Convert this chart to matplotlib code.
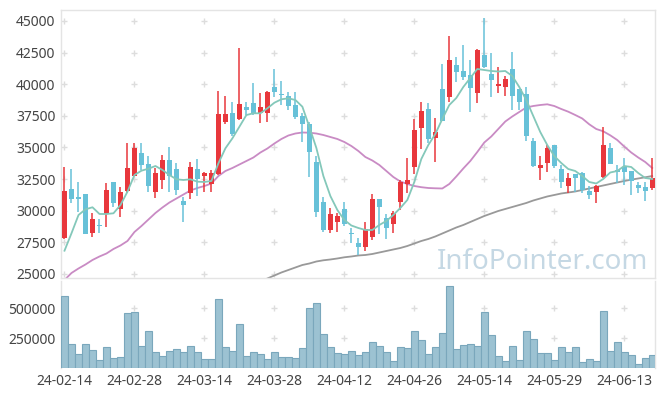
import numpy as np
import matplotlib
matplotlib.use("Agg")
import matplotlib.pyplot as plt

plt.rcParams['font.family'] = ['Noto Sans', 'DejaVu Sans']

# daily candles, 24-02-14 .. 24-06-19 (85 trading days)
opens = [27840, 31710, 31080, 31320, 28260, 28860, 29710, 32270, 30110, 31580,
         32760, 34540, 33690, 31500, 32420, 34000, 33290, 30790, 31420, 33290,
         32760, 32080, 32900, 37040, 37700, 37270, 38170, 38490, 37750, 37700,
         39800, 39200, 39070, 38360, 37490, 36850, 33850, 30660, 28470, 29130,
         30130, 28250, 27460, 27150, 27940, 30900, 29390, 28920, 30710, 32080,
         33430, 36510, 38040, 35720, 39620, 38970, 41520, 41050, 40730, 39330,
         42310, 40780, 39860, 39800, 41200, 39620, 39230, 35510, 33400, 33790,
         35190, 33290, 31970, 32870, 33000, 31580, 31500, 32680, 34980, 33210,
         33480, 33140, 32030, 31890, 31810]
highs = [33450, 33270, 32240, 31350, 29790, 29310, 32160, 32270, 31890, 35330,
         35330, 35330, 34350, 33350, 34400, 35060, 33740, 31100, 33820, 34060,
         33080, 33210, 39460, 39070, 38620, 42840, 38620, 40070, 39280, 39490,
         41180, 40280, 39410, 39360, 37700, 37040, 34350, 31100, 30190, 29790,
         30710, 28600, 27810, 29080, 31320, 30950, 29730, 29970, 32420, 34140,
         37220, 38570, 38490, 37300, 41600, 43810, 42180, 43100, 41920, 42790,
         45210, 42490, 41390, 40650, 42570, 39650, 39760, 35770, 34320, 35190,
         35190, 33610, 32950, 32870, 33050, 31950, 32030, 36640, 35330, 33610,
         34140, 33150, 32290, 32290, 34140]
lows = [27760, 30580, 29920, 28150, 27890, 28210, 28730, 30310, 29520, 31420,
        32700, 33210, 31450, 30980, 31690, 31500, 31240, 29130, 30900, 31160,
        31450, 31450, 32800, 36830, 35900, 37200, 37570, 37600, 36910, 37040,
        38970, 38360, 37960, 37250, 35450, 32680, 29520, 28330, 28210, 28330,
        28810, 27420, 26490, 26830, 27680, 28150, 27730, 28210, 30050, 31420,
        32900, 34850, 35330, 33870, 37050, 38590, 40200, 40330, 37830, 38490,
        41300, 38970, 39280, 39090, 37960, 37960, 35510, 33480, 32420, 33030,
        33350, 31770, 31370, 31500, 31370, 30900, 30630, 32560, 33650, 32160,
        32030, 31240, 31370, 30790, 31630]
closes = [31550, 30950, 30950, 28150, 29340, 28790, 31630, 30630, 31470, 33350,
          34930, 33630, 31970, 32950, 34000, 32760, 31630, 30450, 33480, 32500,
          32950, 32950, 37640, 37640, 36060, 38440, 37960, 37640, 38170, 39380,
          39410, 39150, 38300, 37430, 36850, 34660, 29920, 28470, 29730, 29600,
          28920, 28180, 27150, 28520, 30900, 30310, 28600, 29790, 32240, 32420,
          36380, 37880, 35640, 36240, 37110, 41920, 40990, 40590, 39720, 42710,
          41390, 40330, 40020, 40410, 39070, 38620, 35900, 33530, 33610, 34980,
          33530, 32290, 32560, 32560, 31630, 31240, 31950, 35190, 33690, 33030,
          33080, 32370, 31770, 31550, 32610]
volumes = [603000, 200000, 117000, 200000, 150000, 67000, 175000, 83000, 92000, 458000,
           467000, 183000, 308000, 133000, 100000, 142000, 158000, 133000, 183000, 133000,
           75000, 75000, 575000, 175000, 142000, 367000, 100000, 133000, 117000, 75000,
           133000, 92000, 92000, 83000, 167000, 500000, 542000, 283000, 175000, 125000,
           117000, 142000, 108000, 133000, 217000, 183000, 133000, 58000, 175000, 167000,
           308000, 233000, 117000, 175000, 292000, 683000, 158000, 192000, 200000, 183000,
           467000, 275000, 100000, 58000, 183000, 67000, 308000, 242000, 125000, 125000,
           67000, 175000, 133000, 175000, 50000, 75000, 58000, 475000, 142000, 217000,
           133000, 108000, 33000, 83000, 108000]

# moving averages as drawn (they include days before the window)
ma5 = [26830, 28210, 29650, 30105, 30264, 29734, 29734, 29789, 30445, 31498,
       32818, 33159, 33317, 33530, 33214, 32818, 32478, 32423, 32478, 32289,
       32265, 32344, 33744, 34930, 35721, 36639, 37564, 37699, 37699, 38094,
       38537, 38806, 38885, 38751, 38221, 36615, 34954, 32739, 31157, 30050,
       29259, 28824, 28626, 28468, 28468, 28863, 29180, 29654, 30208, 30841,
       32265, 34084, 35191, 36062, 37248, 38355, 38909, 39779, 40491, 41203,
       41124, 41045, 41005, 41045, 40649, 39779, 38751, 37485, 36220, 35191,
       34321, 33768, 33293, 33135, 32739, 32265, 32146, 32502, 33016, 33135,
       33530, 33451, 32977, 32581, 32502]
ma20 = [24513, 25067, 25423, 25739, 26095, 26372, 26609, 26965, 27242, 27598,
        28310, 28784, 29299, 29813, 30248, 30643, 30960, 31276, 31592, 31790,
        31948, 32146, 32739, 33135, 33372, 33649, 33926, 34203, 34598, 34915,
        35310, 35666, 35943, 36101, 36180, 36164, 36101, 35982, 35824, 35666,
        35429, 35112, 34717, 34242, 33965, 33609, 33135, 32660, 32304, 32107,
        31948, 31853, 31790, 31766, 31751, 32107, 32700, 33333, 33926, 34638,
        35389, 35864, 36457, 37050, 37446, 37802, 38158, 38276, 38355, 38411,
        38276, 38039, 37826, 37564, 37288, 36829, 36457, 36275, 35959, 35587,
        35073, 34598, 34203, 33847, 33372]
nan = float('nan')
ma60 = [nan] * 28 + [
        24394, 24632, 24869, 25106, 25304, 25502, 25699, 25818, 25976, 26071,
        26135, 26214, 26309, 26372, 26451, 26490, 26570, 26688, 26807, 26926,
        27044, 27202, 27400, 27598, 27756, 27954, 28191, 28428, 28666, 28863,
        29101, 29338, 29575, 29773, 29971, 30129, 30287, 30445, 30604, 30801,
        30960, 31118, 31236, 31355, 31434, 31513, 31632, 31751, 31869, 31988,
        32107, 32225, 32344, 32447, 32542, 32637, 32739]

date_labels = ['24-02-14', '24-02-28', '24-03-14', '24-03-28', '24-04-12',
               '24-04-26', '24-05-14', '24-05-29', '24-06-13']
date_pos = [0, 10, 20, 30, 40, 50, 60, 70, 80]
price_ticks = [25000, 27500, 30000, 32500, 35000, 37500, 40000, 42500, 45000]
vol_ticks = [250000, 500000]

UP = '#e8373c'
DOWN = '#67c1d8'
FRAME = '#e4e4e4'
TXT = '#444444'

fig = plt.figure(figsize=(6.65, 3.96), dpi=100)
ax = fig.add_axes([61/665, 118/396, 594/665, 268/396])
axv = fig.add_axes([61/665, 28/396, 594/665, 87/396])

x = np.arange(len(opens))
o = np.array(opens); c = np.array(closes)
up = c >= o
colors = np.where(up, UP, DOWN)

ax.vlines(x, lows, highs, colors=colors, linewidth=1.1, zorder=3)
body_h = np.maximum(np.abs(c - o), 60)
ax.bar(x, body_h, bottom=np.minimum(o, c), width=0.72, color=colors,
       linewidth=0, zorder=4)

ax.plot(x, ma5, color='#84c8ba', lw=1.3, zorder=5)
ax.plot(x, ma20, color='#c98bc4', lw=1.3, zorder=2)
ax.plot(x, ma60, color='#999999', lw=1.3, zorder=2)

ax.set_xlim(-0.5, 84.4)
ax.set_ylim(24670, 45870)
ax.set_yticks(price_ticks)
ax.set_yticklabels([str(v) for v in price_ticks])
ax.set_xticks([])

gx, gy = np.meshgrid(date_pos, price_ticks)
ax.plot(gx.ravel(), gy.ravel(), '+', color='#dddddd', ms=5, mew=1, zorder=1)

ax.text(0.988, 0.035, 'InfoPointer.com', transform=ax.transAxes, ha='right',
        va='baseline', fontsize=20, color='#c5d8e4', zorder=0)

axv.bar(x, volumes, width=1.0, color='#9cc2d2', edgecolor='#7aa7bc',
        linewidth=0.8, zorder=3)
axv.set_xlim(-0.5, 84.4)
axv.set_ylim(0, 725000)
axv.set_yticks(vol_ticks)
axv.set_yticklabels([str(v) for v in vol_ticks])
axv.set_xticks(date_pos)
axv.set_xticklabels(date_labels)
vx, vy = np.meshgrid(date_pos[1:], vol_ticks)
axv.plot(vx.ravel(), vy.ravel(), '+', color='#dddddd', ms=5, mew=1, zorder=1)

for a in (ax, axv):
    for s in a.spines.values():
        s.set_color(FRAME)
        s.set_linewidth(1)
    a.tick_params(length=0, labelsize=10, colors=TXT, pad=4)
    a.set_facecolor('white')
axv.spines['top'].set_visible(False)
axv.spines['bottom'].set_visible(False)

fig.savefig('out.png', dpi=100)
